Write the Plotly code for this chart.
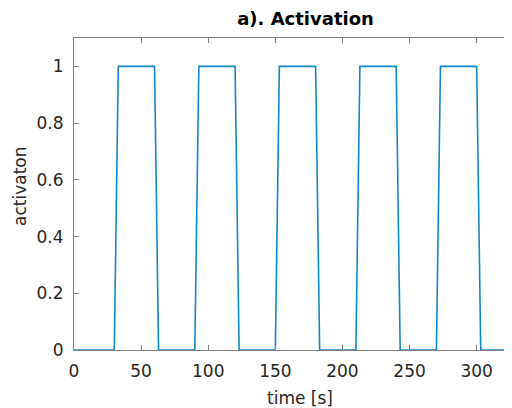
import plotly.graph_objects as go

# Data
time_s = [0, 30, 33, 60, 63, 90, 93, 120, 123, 150, 153, 180, 183,
          210, 213, 240, 243, 270, 273, 300, 303, 330]
activation = [0, 0, 1, 1, 0, 0, 1, 1, 0, 0, 1, 1, 0,
              0, 1, 1, 0, 0, 1, 1, 0, 0]
x_ticks = [0, 50, 100, 150, 200, 250, 300]
y_ticks = [0, 0.2, 0.4, 0.6, 0.8, 1]
y_tick_labels = ["0", "0.2", "0.4", "0.6", "0.8", "1"]

FONT = "DejaVu Sans"
AX = "#808080"
TXT = "#262626"
OFF = 8  # page body margin offset

fig = go.Figure()
fig.add_trace(go.Scatter(x=time_s, y=activation, mode="lines",
                         line=dict(color="#1286CC", width=1.6),
                         showlegend=False, hoverinfo="skip"))

W, H = 512 - OFF, 408 - OFF
fig.update_layout(
    width=W, height=H,
    margin=dict(l=74 - OFF, r=0, t=38 - OFF, b=408 - 350),
    paper_bgcolor="white", plot_bgcolor="white",
    font=dict(family=FONT, size=17, color=TXT),
    title=dict(text="a). Activation", xref="container", yref="container",
               x=(305.5 - OFF) / W, y=1 - (19 - OFF) / H,
               xanchor="center", yanchor="middle",
               font=dict(family=FONT, size=18, color="#000000", weight="bold")),
)
fig.update_xaxes(range=[0, 326.3], tickvals=x_ticks, ticks="inside", ticklen=5,
                 tickcolor=AX, tickwidth=1, showline=True, linecolor=AX, linewidth=1,
                 mirror="ticks", showgrid=False, zeroline=False,
                 ticklabelstandoff=6, tickfont=dict(size=17, color=TXT))
fig.update_yaxes(range=[0, 1.1], tickvals=y_ticks, ticktext=y_tick_labels,
                 ticks="inside", ticklen=5, tickcolor=AX, tickwidth=1,
                 showline=True, linecolor=AX, linewidth=1, mirror=False,
                 showgrid=False, zeroline=False, ticklabelstandoff=6,
                 tickfont=dict(size=17, color=TXT))

fig.add_annotation(text="time [s]", xref="paper", yref="paper",
                   x=(300 - 74) / 438, y=-(398 - 350) / 312,
                   xanchor="center", yanchor="middle", showarrow=False,
                   font=dict(family=FONT, size=17, color=TXT))
fig.add_annotation(text="activaton", xref="paper", yref="paper",
                   x=(20 - 74) / 438, y=(350 - 187) / 312, textangle=-90,
                   xanchor="center", yanchor="middle", showarrow=False,
                   font=dict(family=FONT, size=17, color=TXT))

fig.write_html("out.html")
